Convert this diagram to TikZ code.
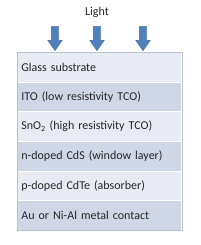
\documentclass[tikz,border=0pt]{standalone}
\usepackage{fontspec}
\setmainfont{Carlito}
\usetikzlibrary{shapes.arrows}
\definecolor{layerlight}{HTML}{E9EBF4}
\definecolor{layerdark}{HTML}{CFD7E7}
\definecolor{arrowblue}{HTML}{4F81BD}
\definecolor{arrowedge}{HTML}{3A6699}
\definecolor{boxedge}{HTML}{B9C1D3}
\tikzset{
  layer/.style={rectangle, draw=white, line width=0.8pt, minimum width=164pt,
    minimum height=29.6pt, inner xsep=4pt, text width=156pt, align=left,
    font=\fontsize{12}{14}\selectfont, text=black!85, anchor=north west},
  lightarrow/.style={single arrow, draw=arrowedge, fill=arrowblue, line width=0.4pt,
    minimum height=24pt, single arrow head extend=3.5pt,
    single arrow tip angle=70, shape border rotate=270, inner sep=3.5pt}
}
\begin{document}
\begin{tikzpicture}[x=1pt, y=-1pt]
  \useasboundingbox (0,0) rectangle (200,245);
  % light label and incoming arrows
  \node[font=\fontsize{12}{14}\selectfont, text=black!85] (light) at (97,12) {Light};
  \foreach \x/\n in {55/a1, 97/a2, 143/a3}
    \node[lightarrow] (\n) at (\x,36) {};

  % layer stack, top to bottom
  \foreach \i/\c/\t in {0/layerlight/Glass substrate,
                        1/layerdark/ITO (low resistivity TCO),
                        2/layerlight/SnO\textsubscript{2} (high resistivity TCO),
                        3/layerdark/n-doped CdS (window layer),
                        4/layerlight/p-doped CdTe (absorber),
                        5/layerdark/Au or Ni-Al metal contact}
    \node[layer, fill=\c] (l\i) at (17,52+29.67*\i) {\t};

  % outer frame
  \draw[boxedge, line width=0.6pt] (l0.north west) rectangle (l5.south east);
\end{tikzpicture}
\end{document}
